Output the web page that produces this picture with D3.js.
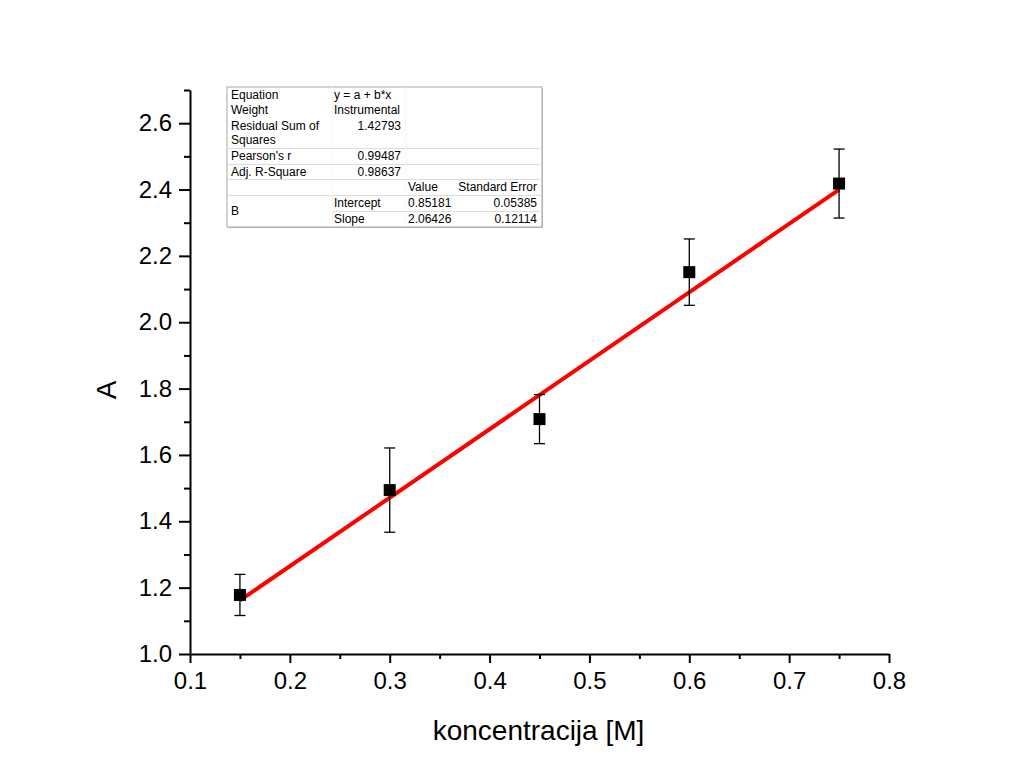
<!DOCTYPE html>
<html>
<head>
  <meta charset="utf-8">
  <style>
    body { margin: 0; background: #fff; }
    svg text { font-family: Arial, "Liberation Sans", sans-serif; fill: #000; }
    .axis path, .axis line { stroke: #000; stroke-width: 2; }
    .tbl text { font-size: 12px; }
  </style>
</head>
<body>
  <script src="https://cdn.jsdelivr.net/npm/d3@7/dist/d3.min.js"></script>
  <script>
    // data
    var conc = [0.15, 0.30, 0.45, 0.60, 0.75];
    var absorb = [1.178, 1.494, 1.708, 2.151, 2.418];
    var errs = [0.062, 0.127, 0.074, 0.100, 0.104];

    // linear fit parameters
    var intercept = 0.85181;
    var slope = 2.06426;

    var xTicks = [0.1, 0.2, 0.3, 0.4, 0.5, 0.6, 0.7, 0.8];
    var yTicks = [1.0, 1.2, 1.4, 1.6, 1.8, 2.0, 2.2, 2.4, 2.6];

    // fit report table rows: [label, col2, col3, col4]
    var tblRows = [
      ["Equation", "y = a + b*x", "", ""],
      ["Weight", "Instrumental", "", ""],
      ["Residual Sum of\nSquares", "1.42793", "", ""],
      ["Pearson's r", "0.99487", "", ""],
      ["Adj. R-Square", "0.98637", "", ""],
      ["", "", "Value", "Standard Error"],
      ["B", "Intercept", "0.85181", "0.05385"],
      ["", "Slope", "2.06426", "0.12114"]
    ];

    var W = 1016, H = 778;
    var margin = {top: 90, right: 127, bottom: 124, left: 190};
    var width = W - margin.left - margin.right;
    var height = H - margin.top - margin.bottom;

    var svg = d3.select("body").append("svg")
      .attr("width", W).attr("height", H);
    var g = svg.append("g")
      .attr("transform", "translate(" + margin.left + "," + margin.top + ")");

    var x = d3.scaleLinear().domain([0.1, 0.8]).range([0, width]);
    var y = d3.scaleLinear().domain([1.0, 2.7]).range([height, 0]);

    // minor ticks (midpoints)
    var xMinor = xTicks.slice(0, -1).map(function(d) { return d + 0.05; });
    var yMinor = yTicks.map(function(d) { return d + 0.1; });

    g.append("g").attr("class", "axis")
      .attr("transform", "translate(0," + height + ")")
      .call(d3.axisBottom(x).tickValues(xMinor).tickSize(5).tickFormat(""))
      .select(".domain").remove();
    g.append("g").attr("class", "axis")
      .attr("transform", "translate(0," + height + ")")
      .call(d3.axisBottom(x).tickValues(xTicks).tickSize(9).tickSizeOuter(0)
        .tickPadding(9).tickFormat(d3.format(".1f")))
      .selectAll("text").style("font-size", "24px");

    g.append("g").attr("class", "axis")
      .call(d3.axisLeft(y).tickValues(yMinor).tickSize(6).tickFormat(""))
      .select(".domain").remove();
    g.append("g").attr("class", "axis")
      .call(d3.axisLeft(y).tickValues(yTicks).tickSize(11).tickSizeOuter(0)
        .tickPadding(7).tickFormat(d3.format(".1f")))
      .selectAll("text").style("font-size", "24px");

    // axis titles
    g.append("text")
      .attr("x", width / 2 - 1).attr("y", height + 86)
      .attr("text-anchor", "middle").style("font-size", "28px")
      .text("koncentracija [M]");
    g.append("text")
      .attr("transform", "translate(" + (-74) + "," + (height / 2 + 18) + ") rotate(-90)")
      .attr("text-anchor", "middle").style("font-size", "28px")
      .text("A");

    // fit line
    g.append("line")
      .attr("x1", x(conc[0])).attr("y1", y(intercept + slope * conc[0]))
      .attr("x2", x(conc[conc.length - 1])).attr("y2", y(intercept + slope * conc[conc.length - 1]))
      .attr("stroke", "#ff0000").attr("stroke-width", 4);

    // error bars
    var eb = g.append("g").attr("stroke", "#000").attr("stroke-width", 1.3);
    conc.forEach(function(c, i) {
      var top = y(absorb[i] + errs[i]), bot = y(absorb[i] - errs[i]);
      eb.append("line").attr("x1", x(c)).attr("x2", x(c)).attr("y1", top).attr("y2", bot);
      eb.append("line").attr("x1", x(c) - 5.5).attr("x2", x(c) + 5.5).attr("y1", top).attr("y2", top);
      eb.append("line").attr("x1", x(c) - 5.5).attr("x2", x(c) + 5.5).attr("y1", bot).attr("y2", bot);
    });

    // square markers
    g.selectAll("rect.pt").data(conc).enter().append("rect")
      .attr("class", "pt")
      .attr("x", function(d) { return x(d) - 6; })
      .attr("y", function(d, i) { return y(absorb[i]) - 6; })
      .attr("width", 12).attr("height", 12)
      .attr("fill", "#000");

    // fit report table
    var tbl = svg.append("g").attr("class", "tbl");
    var tx0 = 227, tx1 = 542, ty0 = 87, ty1 = 227;
    var colX = [227, 332, 405, 456, 542];
    var rowTop = [87, 102, 117, 148, 164, 179, 195, 211, 227];

    tbl.append("rect").attr("x", tx0 + 1).attr("y", ty0 + 1)
      .attr("width", tx1 - tx0).attr("height", ty1 - ty0)
      .attr("fill", "#bbb");
    tbl.append("rect").attr("x", tx0).attr("y", ty0)
      .attr("width", tx1 - tx0).attr("height", ty1 - ty0)
      .attr("fill", "#fff").attr("stroke", "#a8a8a8").attr("stroke-width", 1);

    // row separators
    [3, 4, 5, 6].forEach(function(r) {
      tbl.append("line").attr("x1", tx0).attr("x2", tx1)
        .attr("y1", rowTop[r] + 0.5).attr("y2", rowTop[r] + 0.5)
        .attr("stroke", "#dcdcdc");
    });
    tbl.append("line").attr("x1", colX[1]).attr("x2", tx1)
      .attr("y1", rowTop[7] + 0.5).attr("y2", rowTop[7] + 0.5)
      .attr("stroke", "#dcdcdc");
    // very faint column separators
    [1, 2].forEach(function(c) {
      tbl.append("line").attr("x1", colX[c] + 0.5).attr("x2", colX[c] + 0.5)
        .attr("y1", ty0).attr("y2", ty1).attr("stroke", "#f6f6f6");
    });

    tblRows.forEach(function(row, r) {
      var cy = (rowTop[r] + rowTop[r + 1]) / 2 + 4;
      // label column (may be two lines)
      var lines = row[0].split("\n");
      if (r === 6) cy = (rowTop[6] + rowTop[8]) / 2 + 4;
      lines.forEach(function(t, k) {
        var yy = lines.length > 1 ? rowTop[r] + 13 + k * 14 : cy;
        tbl.append("text").attr("x", colX[0] + 4).attr("y", yy).text(t);
      });
      var cy2 = (rowTop[r] + rowTop[r + 1]) / 2 + 4;
      if (r === 2) cy2 = rowTop[r] + 13;
      // col2: text left, numbers right
      if (row[1] !== "") {
        var isNum = !isNaN(+row[1]);
        tbl.append("text")
          .attr("x", isNum ? colX[2] - 4 : colX[1] + 2)
          .attr("text-anchor", isNum ? "end" : "start")
          .attr("y", cy2).text(row[1]);
      }
      if (row[2] !== "") {
        tbl.append("text").attr("x", colX[2] + 3).attr("y", cy2).text(row[2]);
      }
      if (row[3] !== "") {
        tbl.append("text").attr("x", colX[4] - 5).attr("text-anchor", "end")
          .attr("y", cy2).text(row[3]);
      }
    });
  </script>
</body>
</html>
